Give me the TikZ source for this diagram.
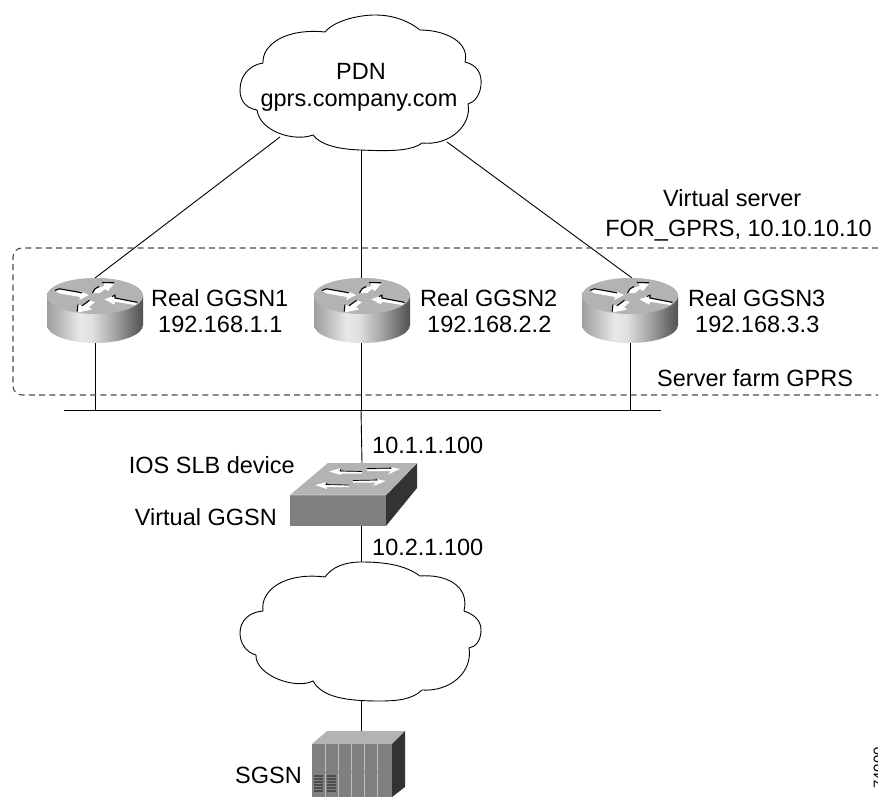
\documentclass[tikz,border=0pt]{standalone}
\usepackage{fontspec}
\setmainfont{Liberation Sans}
\definecolor{topgray}{HTML}{B3B3B3}
\definecolor{frontgray}{HTML}{808080}
\definecolor{darkgray2}{HTML}{333333}
\pgfdeclarehorizontalshading{routerside}{100bp}{
  color(0bp)=(black!38);color(25bp)=(black!38);color(30bp)=(black!30);
  color(42bp)=(black!9);color(48bp)=(black!12);color(60bp)=(black!35);
  color(70bp)=(black!58);color(75bp)=(black!68);color(100bp)=(black!68)}
\tikzset{
  lbl/.style={anchor=base west,inner sep=0pt,font=\fontsize{23.5}{27}\selectfont},
  wire/.style={draw=black,line width=0.9pt},
  cloudline/.style={draw=black,line width=0.9pt,fill=white},
  farm/.style={draw=black!70,line width=1.1pt,dash pattern=on 6pt off 4.2pt},
  warrow/.style={fill=white,draw=none},
  barrow/.style={draw=black,line width=1.1pt,line cap=butt}
}
\newcommand{\routerglyph}[2]{%
  \begin{scope}[shift={(#1,#2)}]
    \path[shading=routerside] (-48,0) -- (-48,29) arc[x radius=48,y radius=18,start angle=180,end angle=0] -- (48,0) arc[x radius=48,y radius=18,start angle=0,end angle=-180] -- cycle;
    \path[fill=topgray] (0,0) ellipse[x radius=48,y radius=18];
    % left arrow
    \path[warrow] (-40,-5.3) -- (-35.7,-7) -- (-13,-3) -- (-15,-5) -- (-6,-1) -- (-15.7,4) -- (-15,1) -- (-36,-2.7) -- cycle;
    \draw[barrow] (-40,-5.5) -- (-35.7,-7.2) -- (-13,-3.2);
    % top right arrow
    \path[warrow] (-2,-2.7) -- (0,-7) -- (9,-10) -- (9,-13) -- (19.3,-12.7) -- (13,-5) -- (10,-7) -- (5,-3) -- cycle;
    \draw[barrow] (-2.5,-3) -- (0,-7.2) -- (4,-9.5);
    \draw[barrow] (7,-13.5) -- (19,-13.2);
    % right arrow
    \path[warrow] (9.3,3.3) -- (20,-0.5) -- (20,2.3) -- (42.3,6.7) -- (40,9) -- (20,5.7) -- (19.3,8.5) -- cycle;
    \draw[barrow] (17,0.5) -- (20,-0.7) -- (20,2) -- (42.5,6.4);
    % bottom left arrow
    \path[warrow] (-5.5,4.5) -- (0,6) -- (-6,11) -- (-3,13.5) -- (-17.7,16.5) -- (-17,8.5) -- (-13,10) -- cycle;
    \draw[barrow] (-5.5,4.3) -- (-13,9.8);
    \draw[barrow] (-17,8.5) -- (-17.8,15.5);
  \end{scope}}
\begin{document}
\begin{tikzpicture}[x=1pt,y=-1pt]
\useasboundingbox (0,0) rectangle (878,797);
% named anchors
\coordinate (pdnL) at (280,137);
\coordinate (pdnC) at (361,150);
\coordinate (pdnR) at (447,142);
\coordinate (r1top) at (95,278);
\coordinate (r2top) at (361,278);
\coordinate (r3top) at (632,278);
\coordinate (r1bot) at (95,343);
\coordinate (r2bot) at (361,343);
\coordinate (r3bot) at (630,343);
\coordinate (busL) at (64,410);
\coordinate (busR) at (661,410);
\coordinate (b1) at (95,410);
\coordinate (b2) at (361,410);
\coordinate (b3) at (630,410);
\coordinate (swtop) at (362,463);
\coordinate (swbot) at (361,526);
\coordinate (lowtop) at (361,562);
\coordinate (lowbot) at (361,700);
\coordinate (sgsntop) at (361,731);
% connectors
\draw[wire] (pdnL) -- (r1top);
\draw[wire] (pdnC) -- (r2top);
\draw[wire] (pdnR) -- (r3top);
\draw[wire] (r1bot) -- (b1);
\draw[wire] (r2bot) -- (b2);
\draw[wire] (r3bot) -- (b3);
\draw[wire] (busL) -- (busR);
\draw[wire] (b2) -- (swtop);
\draw[wire] (swbot) -- (lowtop);
\draw[wire] (lowbot) -- (sgsntop);
% dashed region
\draw[farm,rounded corners=9pt] (878,248) -- (13,248) -- (13,395) -- (878,395);
% upper cloud
\path[cloudline] (325,32) .. controls (335,20) and (360,15) .. (375,15)
  .. controls (395,15) and (410,22) .. (420,30)
  .. controls (445,30) and (470,42) .. (465,62)
  .. controls (478,65) and (482,75) .. (481,85)
  .. controls (480,95) and (475,102) .. (468,104)
  .. controls (472,125) and (450,146) .. (422,143)
  .. controls (410,152) and (385,151) .. (360,150)
  .. controls (335,149) and (320,144) .. (313,135)
  .. controls (295,142) and (260,132) .. (257,110)
  .. controls (245,108) and (240,100) .. (240,90)
  .. controls (240,75) and (250,65) .. (263,63)
  .. controls (262,45) and (285,28) .. (325,32) -- cycle;
% lower cloud
\path[cloudline] (325,577) .. controls (332,567) and (345,562) .. (361,562)
  .. controls (385,562) and (405,565) .. (420,576)
  .. controls (445,574) and (470,585) .. (464,611)
  .. controls (476,615) and (481,622) .. (481,630)
  .. controls (481,640) and (476,647) .. (469,648)
  .. controls (473,672) and (450,692) .. (422,690)
  .. controls (412,700) and (395,701) .. (380,701)
  .. controls (345,701) and (322,697) .. (313,681)
  .. controls (295,690) and (255,675) .. (256,655)
  .. controls (245,652) and (240,642) .. (240,633)
  .. controls (240,620) and (250,612) .. (263,611)
  .. controls (260,590) and (285,572) .. (325,577) -- cycle;
% routers
\routerglyph{95}{296}
\routerglyph{362}{296}
\routerglyph{630}{296}
% switch
\path[fill=topgray] (328,463) -- (417,463) -- (386,495) -- (290,495) -- cycle;
\path[fill=frontgray] (290,495) rectangle (386,526);
\path[fill=darkgray2] (417,463) -- (417,488) -- (386,526) -- (386,495) -- cycle;
\draw[white,line width=0.6pt,opacity=.5] (290,495) -- (386,495) -- (417,463);
\path[warrow] (329,471.5) -- (341,468) -- (340,471.5) -- (362,472) -- (362,473.5) -- (340,473.5) -- (341,475) -- cycle;
\draw[black,line width=.7pt] (341,468.5) -- (340,471) -- (362,471.5);
\path[warrow] (400,469) -- (390,467) -- (391,469) -- (367,469.5) -- (367,471) -- (391,471) -- (388,474.5) -- cycle;
\draw[black,line width=.7pt] (367,468.5) -- (391,468.2) -- (390,467);
\path[warrow] (315,485) -- (327,482) -- (326,485) -- (349,485.5) -- (349,487) -- (326,487) -- (327,489) -- cycle;
\draw[black,line width=.7pt] (327,482.5) -- (326,484.5) -- (349,485);
\path[warrow] (386,481) -- (376,479) -- (377,480.5) -- (353,481) -- (353,482.5) -- (376,482.5) -- (373,486) -- cycle;
\draw[black,line width=.7pt] (353,480.5) -- (377,480) -- (376,479);
% SGSN
\path[fill=topgray] (327,731) -- (405,731) -- (392,744) -- (312,744) -- cycle;
\path[fill=frontgray] (312,744) rectangle (392,797);
\path[fill=darkgray2] (405,731) -- (405,787) -- (392,797) -- (392,744) -- cycle;
\foreach \xx in {325,338,351,364,377}{\draw[black!25,line width=0.9pt] (\xx,744) -- (\xx,797);}
\draw[black!50,line width=1pt] (312,772) -- (392,772);
\foreach \xx in {314,327}{\foreach \yy in {776,779,782,785,788,791}{\draw[black!70,line width=1.1pt] (\xx,\yy) -- (\xx+9,\yy);}}
% text
\node[lbl,anchor=base] (pdn) at (361,80) {PDN};
\node[lbl,anchor=base] (gprs) at (359,107) {gprs.company.com};
\node[lbl] (vs) at (663,206) {Virtual server};
\node[lbl,anchor=base east] (fg) at (872,236) {FOR\_GPRS, 10.10.10.10};
\node[lbl] (g1) at (151,306) {Real GGSN1};
\node[lbl] (ip1) at (158,332) {192.168.1.1};
\node[lbl] (g2) at (420,306) {Real GGSN2};
\node[lbl] (ip2) at (427,332) {192.168.2.2};
\node[lbl] (g3) at (688,306) {Real GGSN3};
\node[lbl] (ip3) at (695,332) {192.168.3.3};
\node[lbl] (sf) at (657,386) {Server farm GPRS};
\node[lbl] (ipa) at (372,453) {10.1.1.100};
\node[lbl,anchor=base east] (ios) at (295,473) {IOS SLB device};
\node[lbl,anchor=base east] (vg) at (277,525) {Virtual GGSN};
\node[lbl] (ipb) at (372,555) {10.2.1.100};
\node[lbl,anchor=base east] (sg) at (302,783) {SGSN};
\node[anchor=base west,inner sep=0pt,rotate=90,font=\fontsize{15}{17}\selectfont] (idn) at (884,789) {74000};
\end{tikzpicture}
\end{document}
